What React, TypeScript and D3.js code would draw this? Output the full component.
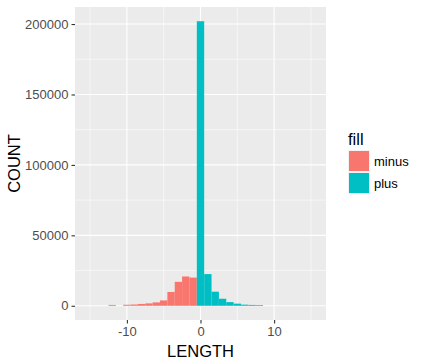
import { useEffect, useRef } from 'react';
import * as d3 from 'd3';

// bin centres (binwidth 1) and counts
const binCenters = [-12, -10, -9, -8, -7, -6, -5, -4, -3, -2, -1, 0, 1, 2, 3, 4, 5, 6, 7, 8];
const binCounts = [600, 700, 900, 1300, 1700, 2400, 3800, 9800, 17000, 20800, 20000, 202000, 22500, 10000, 5000, 2600, 1500, 800, 600, 500];
const fillGroups = ['minus', 'plus'];
const fillColors = ['#F8766D', '#00BFC4'];
const xTicks = [-10, 0, 10];
const xMinor = [-15, -5, 5, 15];
const yTicks = [0, 50000, 100000, 150000, 200000];
const yMinor = [25000, 75000, 125000, 175000];

const W = 424;
const H = 364;

const App = () => {
  const svgRef = useRef<SVGSVGElement>(null);

  useEffect(() => {
    if (!svgRef.current) return;
    const svg = d3.select(svgRef.current);
    svg.selectAll('*').remove();

    const panel = { left: 75, right: 326, top: 7, bottom: 320 };
    const font = 'Liberation Sans, Arial, sans-serif';

    // ggplot style expansion: 5% on both sides
    const x = d3.scaleLinear().domain([-17.05, 17.05]).range([panel.left, panel.right]);
    const yMax = 202000 * 1.05;
    const yMin = -202000 * 0.05;
    const y = d3.scaleLinear().domain([yMin, yMax]).range([panel.bottom, panel.top]);

    svg.append('rect')
      .attr('x', panel.left)
      .attr('y', panel.top)
      .attr('width', panel.right - panel.left)
      .attr('height', panel.bottom - panel.top)
      .attr('fill', '#EBEBEB');

    // grid
    const grid = svg.append('g');
    xMinor.forEach((v) => {
      grid.append('line').attr('x1', x(v)).attr('x2', x(v)).attr('y1', panel.top).attr('y2', panel.bottom)
        .attr('stroke', '#fff').attr('stroke-width', 0.55);
    });
    yMinor.forEach((v) => {
      grid.append('line').attr('x1', panel.left).attr('x2', panel.right).attr('y1', y(v)).attr('y2', y(v))
        .attr('stroke', '#fff').attr('stroke-width', 0.55);
    });
    xTicks.forEach((v) => {
      grid.append('line').attr('x1', x(v)).attr('x2', x(v)).attr('y1', panel.top).attr('y2', panel.bottom)
        .attr('stroke', '#fff').attr('stroke-width', 1.1);
    });
    yTicks.forEach((v) => {
      grid.append('line').attr('x1', panel.left).attr('x2', panel.right).attr('y1', y(v)).attr('y2', y(v))
        .attr('stroke', '#fff').attr('stroke-width', 1.1);
    });

    // bars
    svg.append('g')
      .selectAll('rect')
      .data(binCenters.map((c, i) => ({ c, n: binCounts[i] })))
      .join('rect')
      .attr('x', (d) => x(d.c - 0.5))
      .attr('width', (d) => x(d.c + 0.5) - x(d.c - 0.5))
      .attr('y', (d) => y(d.n))
      .attr('height', (d) => y(0) - y(d.n))
      .attr('fill', (d) => (d.c < 0 ? fillColors[0] : fillColors[1]));

    // axes
    const xAxis = svg.append('g')
      .attr('transform', `translate(0,${panel.bottom})`)
      .call(d3.axisBottom(x).tickValues(xTicks).tickSize(3.5).tickPadding(3).tickFormat(d3.format('d')));
    const yAxis = svg.append('g')
      .attr('transform', `translate(${panel.left},0)`)
      .call(d3.axisLeft(y).tickValues(yTicks).tickSize(3.5).tickPadding(3).tickFormat(d3.format('d')));
    [xAxis, yAxis].forEach((a) => {
      a.select('.domain').remove();
      a.selectAll('line').attr('stroke', '#333').attr('stroke-width', 1.1);
      a.selectAll('text').attr('fill', '#4D4D4D').style('font-family', font).style('font-size', '13px');
    });
    xAxis.selectAll('text').text((d: any) => (d < 0 ? `-${Math.abs(d)}` : `${d}`));

    // axis titles
    svg.append('text')
      .attr('x', (panel.left + panel.right) / 2)
      .attr('y', 357)
      .attr('text-anchor', 'middle')
      .style('font-family', font)
      .style('font-size', '16.5px')
      .text('LENGTH');
    svg.append('text')
      .attr('transform', `translate(20,${(panel.top + panel.bottom) / 2}) rotate(-90)`)
      .attr('text-anchor', 'middle')
      .style('font-family', font)
      .style('font-size', '16.5px')
      .text('COUNT');

    // legend
    const legend = svg.append('g').attr('transform', 'translate(348,0)');
    legend.append('text')
      .attr('x', 0)
      .attr('y', 145)
      .style('font-family', font)
      .style('font-size', '16.5px')
      .text('fill');
    fillGroups.forEach((g, i) => {
      const top = 150 + i * 22;
      legend.append('rect').attr('x', 0).attr('y', top).attr('width', 22).attr('height', 22).attr('fill', '#F2F2F2');
      legend.append('rect').attr('x', 1).attr('y', top + 1).attr('width', 20).attr('height', 20).attr('fill', fillColors[i]);
      legend.append('text')
        .attr('x', 26)
        .attr('y', top + 11)
        .attr('dy', '0.35em')
        .style('font-family', font)
        .style('font-size', '13px')
        .text(g);
    });
  }, []);

  return (
    <svg
      ref={svgRef}
      width={W}
      height={H}
      style={{ position: 'absolute', left: 0, top: 0, background: '#fff' }}
    />
  );
};

export default App;
